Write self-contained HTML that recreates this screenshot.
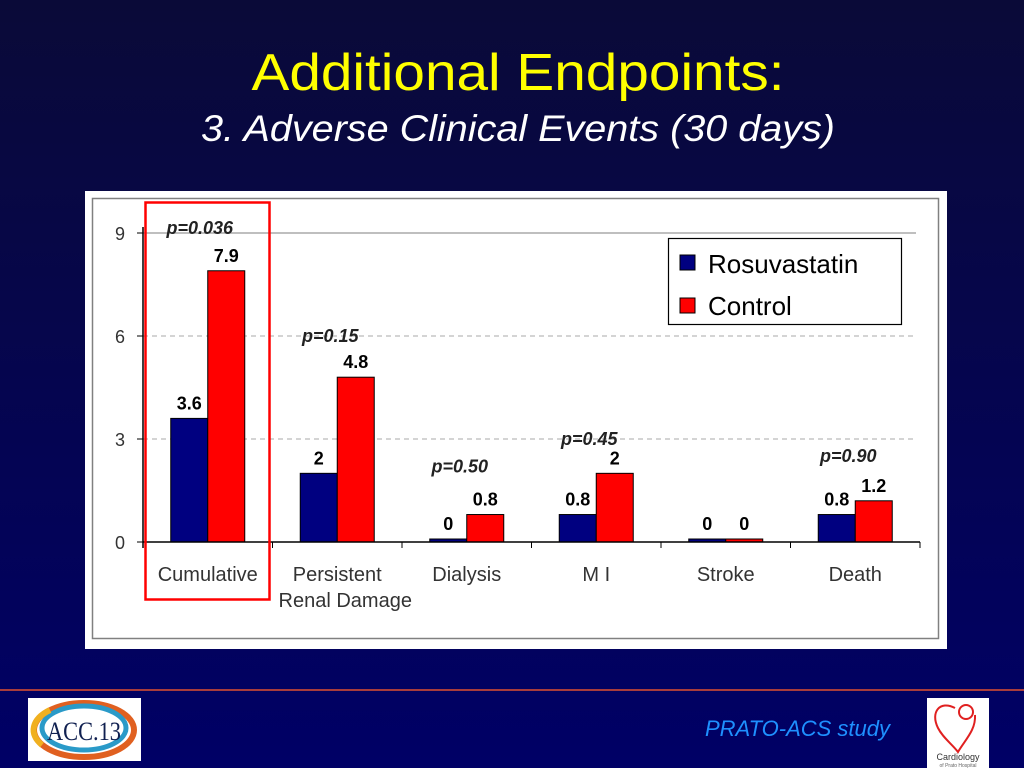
<!DOCTYPE html>
<html><head><meta charset="utf-8">
<style>
html,body{margin:0;padding:0;width:1024px;height:768px;overflow:hidden;background:#000060}
svg{display:block;font-family:"Liberation Sans",Arial,sans-serif}
</style></head>
<body>
<svg id="s" width="1024" height="768" viewBox="0 0 1024 768">
<defs>
<linearGradient id="bg" x1="0" y1="0" x2="0" y2="1">
<stop offset="0" stop-color="#0a0a38"/><stop offset="1" stop-color="#000066"/>
</linearGradient>
</defs>
<rect width="1024" height="768" fill="url(#bg)"/>
<text x="518" y="90" text-anchor="middle" fill="#ffff00" font-size="52" textLength="533" lengthAdjust="spacingAndGlyphs">Additional Endpoints:</text>
<text x="518" y="141" text-anchor="middle" fill="#ffffff" font-size="37" font-style="italic" textLength="634" lengthAdjust="spacingAndGlyphs">3. Adverse Clinical Events (30 days)</text>

<rect x="85" y="191" width="862" height="458" fill="#ffffff"/>
<rect x="92.5" y="198.5" width="846" height="440" fill="none" stroke="#808080" stroke-width="1.5"/>
<g id="chart"></g>

<g>
<rect x="668.5" y="238.5" width="233" height="86" fill="#fff" stroke="#000" stroke-width="1.2"/>
<rect x="680" y="255" width="15" height="15" fill="#000080" stroke="#000"/>
<text x="708" y="273" font-size="26" fill="#000">Rosuvastatin</text>
<rect x="680" y="298" width="15" height="15" fill="#ff0000" stroke="#000"/>
<text x="708" y="315" font-size="26" fill="#000">Control</text>
</g>
<rect x="145.5" y="202.5" width="124" height="397" fill="none" stroke="#ff0000" stroke-width="2.5"/>

<line x1="0" y1="690" x2="1024" y2="690" stroke="#e05030" stroke-width="1.5"/>
<g>
<rect x="28" y="698" width="113" height="63" fill="#ffffff"/>
<ellipse cx="84" cy="730" rx="50" ry="27" fill="none" stroke="#e06020" stroke-width="6"/>
<ellipse cx="84" cy="728" rx="42" ry="22" fill="none" stroke="#2a9ac8" stroke-width="5"/>
<path d="M42 745 A50 27 0 0 1 50 710" fill="none" stroke="#f0b020" stroke-width="6"/>
<text x="84" y="740" text-anchor="middle" font-size="26" fill="#102050" font-family="Liberation Serif,serif" textLength="74" lengthAdjust="spacingAndGlyphs">ACC.13</text>
</g>
<text x="890" y="736" text-anchor="end" font-size="22" font-style="italic" fill="#1e90ff">PRATO-ACS study</text>
<g>
<rect x="927" y="698" width="62" height="70" fill="#ffffff"/>
<path d="M955 708 C940 700 930 712 938 728 C943 738 952 744 958 752 C965 740 976 730 975 715" fill="none" stroke="#e02020" stroke-width="2"/>
<circle cx="966" cy="712" r="7" fill="none" stroke="#e02020" stroke-width="2"/>
<text x="958" y="760" text-anchor="middle" font-size="9" fill="#333">Cardiology</text>
<text x="958" y="767" text-anchor="middle" font-size="5" fill="#666">of Prato Hospital</text>
</g>
</svg>
<script>
const categories = ["Cumulative","Persistent","Dialysis","MI","Stroke","Death"];
const rosuvastatin = [3.6, 2, 0, 0.8, 0, 0.8];
const control = [7.9, 4.8, 0.8, 2, 0, 1.2];
const rosLabels = ["3.6","2","0","0.8","0","0.8"];
const ctlLabels = ["7.9","4.8","0.8","2","0","1.2"];
const pValues = ["p=0.036","p=0.15","p=0.50","p=0.45","","p=0.90"];
const pValueLevels = [9, 6, 2.2, 3, 0, 2.5];
const yTicks = [0,3,6,9];

const NS="http://www.w3.org/2000/svg";
const g=document.getElementById('chart');
const x0=143, x1=920, yMin=0, yMax=9, py0=542, py1=233;
const band=(x1-x0)/categories.length;
const y=v=>py0-(v-yMin)/(yMax-yMin)*(py0-py1);
const bx=i=>x0+band*i+band/2;
function mk(t,a){const e=document.createElementNS(NS,t);for(const k in a)e.setAttribute(k,a[k]);g.appendChild(e);return e;}

yTicks.forEach(t=>{
  if(t>0){const l=mk('line',{x1:x0,x2:916,y1:y(t),y2:y(t),stroke:t===9?'#999':'#bbb','stroke-width':1.2,'stroke-dasharray':t===9?'none':'5,4'});
  
  }
  const tk=mk('line',{x1:x0-6,x2:x0,y1:y(t),y2:y(t),stroke:'#000'});
  
  
  const tx=mk('text',{x:x0-18,y:y(t)+7,'text-anchor':'end','font-size':18,fill:'#333'});
  tx.textContent=t;
  
  
});
const ax=mk('line',{x1:x0,x2:x0,y1:py1-6,y2:py0+6,stroke:'#000','stroke-width':1.5});



categories.forEach((c,i)=>{
  const cx=bx(i), w=37;
  const h1=Math.max(y(0)-y(rosuvastatin[i]),3), h2=Math.max(y(0)-y(control[i]),3);
  const r1=mk('rect',{x:cx-w,y:y(0)-h1,width:w,height:h1,fill:'#000080',stroke:'#000','stroke-width':1});
  
  
  const r2=mk('rect',{x:cx,y:y(0)-h2,width:w,height:h2,fill:'#ff0000',stroke:'#000','stroke-width':1});
  
  
  const l1=mk('text',{x:cx-w/2,y:y(0)-h1-9,'text-anchor':'middle','font-size':18,'font-weight':'bold',fill:'#000'});
  l1.textContent=rosLabels[i];
  
  
  const l2=mk('text',{x:cx+w/2,y:y(0)-h2-9,'text-anchor':'middle','font-size':18,'font-weight':'bold',fill:'#000'});
  l2.textContent=ctlLabels[i];
  
  
  if(pValues[i]){
    const p=mk('text',{x:cx-7,y:y(pValueLevels[i])+6,'text-anchor':'middle','font-size':18,'font-weight':'bold','font-style':'italic',fill:'#222'});
    if(i===0){p.setAttribute('x',cx-8);p.setAttribute('y',y(9)+1);}
    p.textContent=pValues[i];
    
    
  }
  const t=mk('line',{x1:x0+band*(i+1),x2:x0+band*(i+1),y1:py0,y2:py0+6,stroke:'#000'});
  
  
  const cl=mk('text',{x:cx,y:581,'text-anchor':'middle','font-size':20,fill:'#333'});
  cl.textContent=c==='MI'?'M I':c;
  
  
});
const rd=mk('text',{x:bx(1)+8,y:607,'text-anchor':'middle','font-size':20,fill:'#333'});
rd.textContent='Renal Damage';


const xa=mk('line',{x1:x0,x2:x1,y1:py0,y2:py0,stroke:'#000','stroke-width':1.5});


</script>
</body></html>
